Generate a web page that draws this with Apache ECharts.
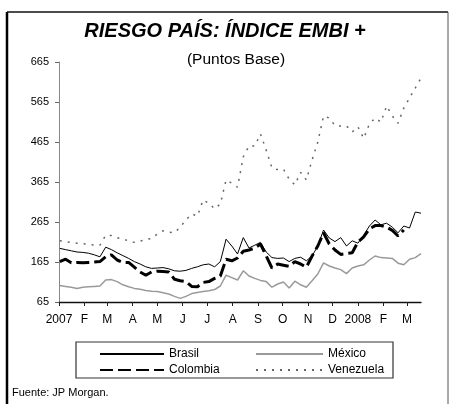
<!DOCTYPE html>
<html>
<head>
<meta charset="utf-8">
<script src="https://cdn.jsdelivr.net/npm/echarts@6/dist/echarts.min.js"></script>
<style>
  html, body { margin: 0; background: #fff; }
  #chart { width: 451px; height: 404px; }
</style>
</head>
<body>
<div id="chart"></div>
<script>
// etiquetas de meses (ene 2007 - mar 2008)
const monthLabels = ['2007', 'F', 'M', 'A', 'M', 'J', 'J', 'A', 'S', 'O', 'N', 'D', '2008', 'F', 'M'];

// datos semanales (martes, desde 2 ene 2007), puntos base
const brasil = [199, 196, 193, 190, 189, 187, 183, 178, 202, 196, 188, 181, 174, 166, 160, 153,
  149, 150, 151, 148, 143, 142, 144, 149, 153, 158, 160, 153, 166, 222, 205, 185,
  226, 200, 207, 214, 190, 176, 174, 175, 166, 174, 177, 168, 180, 205, 245, 225,
  216, 226, 205, 218, 212, 232, 255, 270, 258, 262, 252, 238, 255, 250, 290, 287];
const colombia = [166, 172, 163, 164, 163, 164, 165, 166, 178, 183, 170, 164, 164, 152, 140, 132,
  140, 142, 141, 140, 122, 118, 116, 104, 103, 114, 116, 124, 130, 172, 168, 175,
  192, 195, 200, 210, 180, 150, 160, 157, 154, 166, 160, 152, 180, 205, 238, 210,
  195, 184, 186, 188, 215, 228, 248, 256, 256, 252, 244, 230, 245];
const mexico = [106, 104, 102, 99, 102, 103, 104, 105, 120, 121, 116, 108, 103, 99, 97, 94,
  92, 91, 88, 85, 79, 74, 79, 86, 89, 91, 93, 96, 105, 132, 126, 120,
  143, 130, 124, 119, 116, 102, 110, 115, 100, 117, 108, 102, 118, 135, 163, 155,
  150, 146, 136, 150, 155, 158, 170, 180, 176, 175, 174, 162, 158, 172, 176, 186];
const venezuela = [218, 216, 214, 212, 211, 209, 207, 207, 232, 231, 226, 222, 218, 214, 217, 221,
  224, 235, 243, 240, 238, 252, 270, 285, 280, 320, 312, 298, 310, 370, 362, 352,
  428, 455, 455, 485, 445, 400, 396, 397, 372, 358, 389, 370, 420, 465, 530, 525,
  506, 505, 505, 490, 503, 474, 510, 525, 515, 555, 530, 512, 550, 575, 600, 625];

const font = 'Liberation Sans, Arial, sans-serif';

// eje diario del 1 ene 2007 al 18 mar 2008
const days = [];
const d = new Date(Date.UTC(2007, 0, 1));
while (d.getTime() <= Date.UTC(2008, 2, 18)) {
  days.push(d.toISOString().slice(0, 10));
  d.setUTCDate(d.getUTCDate() + 1);
}
// cada valor semanal va al dia 1 + 7k
function weekly(vals) {
  return vals.map((v, k) => [1 + 7 * k, v]);
}
const isMonthStart = (i, v) => v.slice(8) === '01';

const legendBase = {
  orient: 'vertical',
  top: 343,
  itemHeight: 10,
  itemGap: 4,
  itemStyle: { opacity: 0 },
  textStyle: { color: '#000', fontSize: 12, fontFamily: font }
};

const chart = echarts.init(document.getElementById('chart'));
chart.setOption({
  animation: false,
  grid: { left: 59, right: 30, top: 62, bottom: 102, containLabel: false, outerBoundsMode: 'none' },
  xAxis: {
    type: 'category',
    data: days,
    boundaryGap: false,
    axisLine: { lineStyle: { color: '#111', width: 1.3 } },
    axisTick: { interval: isMonthStart, length: 4, lineStyle: { color: '#222' } },
    axisLabel: {
      interval: isMonthStart,
      margin: 12,
      color: '#000',
      fontSize: 12,
      fontFamily: font,
      formatter: v => monthLabels[(+v.slice(0, 4) - 2007) * 12 + (+v.slice(5, 7)) - 1]
    },
    splitLine: { show: false }
  },
  yAxis: {
    type: 'value',
    min: 65,
    max: 665,
    interval: 100,
    axisLine: { show: true, lineStyle: { color: '#888' } },
    axisTick: { show: true, length: 4, lineStyle: { color: '#666' } },
    axisLabel: { color: '#000', fontSize: 11, fontFamily: font, margin: 10 },
    splitLine: { show: false }
  },
  legend: [
    Object.assign({ data: ['Brasil', 'Colombia'], left: 94, itemWidth: 64 }, legendBase),
    Object.assign({ data: ['México', 'Venezuela'], left: 250, itemWidth: 67 }, legendBase)
  ],
  graphic: [
    { type: 'line', shape: { x1: 7, y1: 12, x2: 7, y2: 404 }, style: { stroke: '#000', lineWidth: 2.5 } },
    { type: 'line', shape: { x1: 7, y1: 12, x2: 448, y2: 12 }, style: { stroke: '#111', lineWidth: 1.5 } },
    { type: 'line', shape: { x1: 448, y1: 12, x2: 448, y2: 404 }, style: { stroke: '#555', lineWidth: 1 } },
    { type: 'rect', shape: { x: 76, y: 342, width: 317, height: 36 }, style: { fill: 'none', stroke: '#333', lineWidth: 1.2 } },
    {
      type: 'text', x: 225, y: 31,
      style: { text: 'RIESGO PAÍS: ÍNDICE EMBI +', textAlign: 'center', textVerticalAlign: 'middle',
        font: 'italic bold 20px ' + font, fill: '#000' }
    },
    {
      type: 'text', x: 236, y: 60,
      style: { text: '(Puntos Base)', textAlign: 'center', textVerticalAlign: 'middle',
        font: '15.5px ' + font, fill: '#000' }
    },
    {
      type: 'text', x: 12, y: 393,
      style: { text: 'Fuente: JP Morgan.', textVerticalAlign: 'middle', font: '11px ' + font, fill: '#000' }
    }
  ],
  series: [
    {
      name: 'México', type: 'line', data: weekly(mexico), symbol: 'none',
      lineStyle: { color: '#9a9a9a', width: 1.5 }, itemStyle: { color: '#9a9a9a' }
    },
    {
      name: 'Venezuela', type: 'line', data: weekly(venezuela), symbol: 'none',
      lineStyle: { color: '#666', width: 1.5, type: [2, 6] }, itemStyle: { color: '#666' }
    },
    {
      name: 'Brasil', type: 'line', data: weekly(brasil), symbol: 'none',
      lineStyle: { color: '#000', width: 1 }, itemStyle: { color: '#000' }
    },
    {
      name: 'Colombia', type: 'line', data: weekly(colombia), symbol: 'none',
      lineStyle: { color: '#000', width: 3, type: [13, 5] }, itemStyle: { color: '#000' }
    }
  ]
});
</script>
</body>
</html>
